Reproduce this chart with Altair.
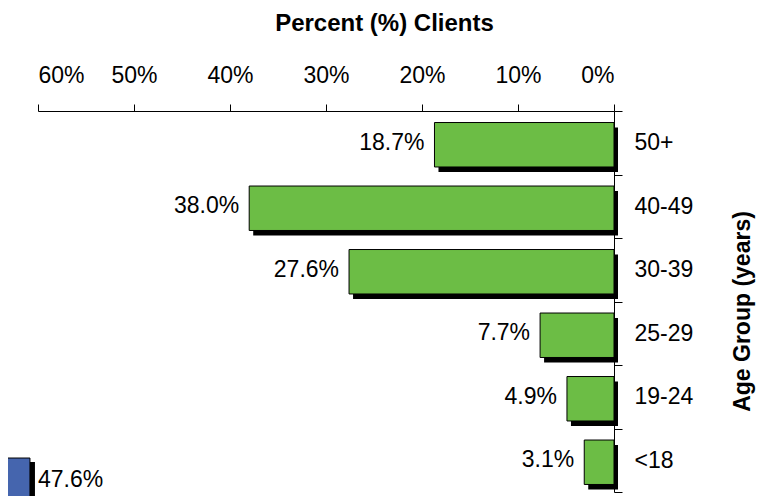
import altair as alt
import pandas as pd

# ---- data ----
age_groups = ["50+", "40-49", "30-39", "25-29", "19-24", "<18"]
percent_clients = [18.7, 38.0, 27.6, 7.7, 4.9, 3.1]
x_tick_values = [0, 10, 20, 30, 40, 50, 60]

# fragment of the neighbouring (blue) chart visible at bottom-left
neighbor_rows = ["<18"]
neighbor_values = [47.6]

FONT = "Liberation Sans"
GREEN = "#6cbd45"
BLUE = "#4565ae"

df = pd.DataFrame({"age": age_groups, "pct": percent_clients})
df["label"] = [f"{v:.1f}%" for v in percent_clients]

nb = pd.DataFrame({"age": neighbor_rows, "pct": neighbor_values})
nb["label"] = [f"{v:.1f}%" for v in neighbor_values]

y_scale = alt.Scale(domain=age_groups, paddingInner=0, paddingOuter=0)

y_axis = alt.Axis(
    orient="right",
    title="Age Group (years)",
    tickBand="extent",
    tickSize=8,
    labelPadding=12,
    labelFontSize=23,
    labelColor="black",
    domainColor="black",
    tickColor="black",
    titleFontSize=23,
    titleFontWeight="bold",
    titleColor="black",
    titleAngle=270,
    titleAlign="center",
    titleBaseline="alphabetic",
    titleX=135,
    titleY=200,
)

x_axis = alt.Axis(
    orient="top",
    title="Percent (%) Clients",
    values=x_tick_values,
    labelExpr="datum.value + '%'",
    tickSize=7,
    labelPadding=22,
    labelBaseline="alphabetic",
    labelFontSize=23,
    labelColor="black",
    domainColor="black",
    tickColor="black",
    grid=False,
    titleFontSize=24,
    titleFontWeight="bold",
    titleColor="black",
    titleAlign="center",
    titleBaseline="alphabetic",
    titleX=346,
    titleY=-81,
)

x_scale = alt.Scale(domain=[0, 60], reverse=True, nice=False, zero=True)

base = alt.Chart(df)
shadow = base.mark_bar(color="black", xOffset=4, yOffset=7,
                       height=alt.RelativeBandSize(0.7)).encode(
    x=alt.X("pct:Q", scale=x_scale, axis=x_axis),
    y=alt.Y("age:N", scale=y_scale, axis=y_axis),
)
bars = base.mark_bar(color=GREEN, stroke="black", strokeWidth=1, yOffset=2,
                     height=alt.RelativeBandSize(0.7)).encode(
    x=alt.X("pct:Q", scale=x_scale, axis=x_axis),
    y=alt.Y("age:N", scale=y_scale, axis=y_axis),
)
labels = base.mark_text(align="right", baseline="middle", dx=-10,
                        font=FONT, fontSize=23, color="black").encode(
    x=alt.X("pct:Q", scale=x_scale, axis=x_axis),
    y=alt.Y("age:N", scale=y_scale, axis=y_axis),
    text="label:N",
)
green = alt.layer(shadow, bars, labels)

# neighbouring chart's scale (same px per percent, extends off to the left)
nb_scale = alt.Scale(domain=[0, 60], range=[-465, 111], nice=False, zero=True)
nbase = alt.Chart(nb)
nshadow = nbase.mark_bar(color="black", xOffset=5, yOffset=24,
                         height=alt.RelativeBandSize(0.7)).encode(
    x=alt.X("pct:Q", scale=nb_scale, axis=None),
    y=alt.Y("age:N", scale=y_scale),
)
nbar = nbase.mark_bar(color=BLUE, stroke="black", strokeWidth=1, yOffset=20,
                      height=alt.RelativeBandSize(0.7)).encode(
    x=alt.X("pct:Q", scale=nb_scale, axis=None),
    y=alt.Y("age:N", scale=y_scale),
)
nlabel = nbase.mark_text(align="left", baseline="middle", dx=8, dy=20,
                         font=FONT, fontSize=23, color="black").encode(
    x=alt.X("pct:Q", scale=nb_scale, axis=None),
    y=alt.Y("age:N", scale=y_scale),
    text="label:N",
)
blue = alt.layer(nshadow, nbar, nlabel)

chart = (
    alt.layer(green, blue)
    .resolve_scale(x="independent")
    .properties(
        width=576,
        height=381,
        autosize=alt.AutoSizeParams(type="none"),
        padding={"left": 30, "top": 103, "right": 153, "bottom": 4},
    )
    .configure_view(stroke=None)
    .configure_axis(labelFont=FONT, titleFont=FONT, domainWidth=1, tickWidth=1)
)

chart.save("out.html", embed_options={"renderer": "svg", "actions": False})
